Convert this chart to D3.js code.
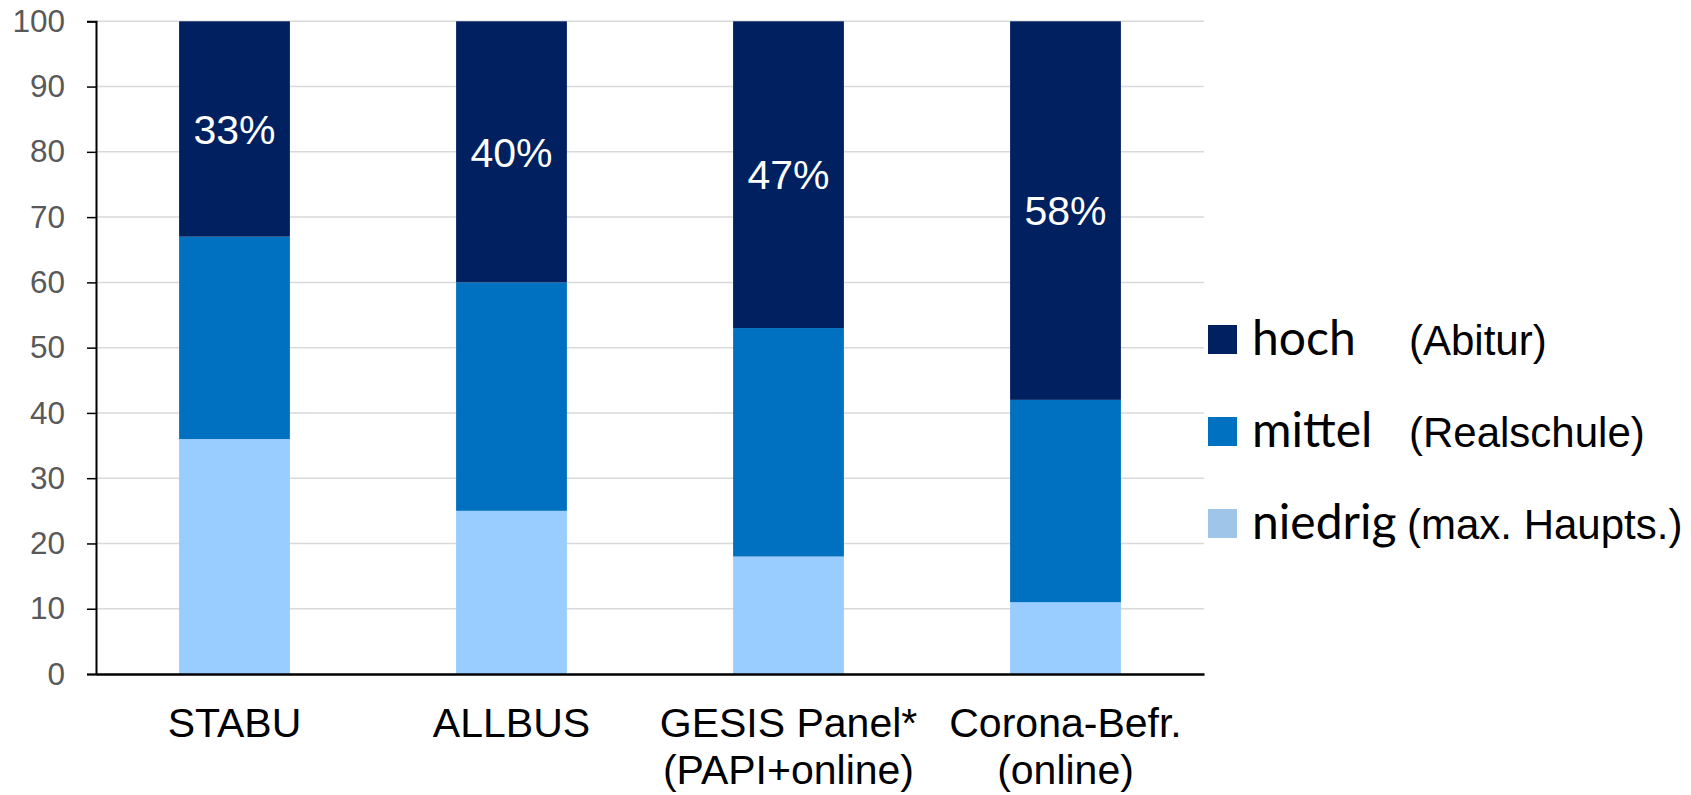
<!DOCTYPE html>
<html>
<head>
<meta charset="utf-8">
<script src="https://cdn.jsdelivr.net/npm/d3@7"></script>
<style>
  html, body { margin: 0; padding: 0; background: #fff; }
  svg { display: block; }
</style>
</head>
<body>
<svg id="chart" width="1691" height="795"></svg>
<script>
// ---- data ----
const categories = ["STABU", "ALLBUS", "GESIS Panel*", "Corona-Befr."];
const categorySubtitles = ["", "", "(PAPI+online)", "(online)"];
const niedrig = [36, 25, 18, 11];
const mittel  = [31, 35, 35, 31];
const hoch    = [33, 40, 47, 58];
const seriesKeys = ["niedrig", "mittel", "hoch"];
const legendKeys = ["hoch", "mittel", "niedrig"];
const legendNotes = ["(Abitur)", "(Realschule)", "(max. Haupts.)"];
const yTicks = [0, 10, 20, 30, 40, 50, 60, 70, 80, 90, 100];

(function () {
// ---- build table ----
const rows = categories.map((c, i) => ({ cat: c, niedrig: niedrig[i], mittel: mittel[i], hoch: hoch[i] }));
const stacked = d3.stack().keys(seriesKeys)(rows);

const color = d3.scaleOrdinal().domain(seriesKeys).range(["#99CCFF", "#0070C0", "#002060"]);
const legendColor = d3.scaleOrdinal().domain(seriesKeys).range(["#9FC5E8", "#0070C0", "#002060"]);

const svg = d3.select("#chart");
const mLeft = 96, mRight = 1204, mTop = 21.3, mBottom = 674;

const x = d3.scaleBand().domain(categories).range([mLeft, mRight]).paddingInner(0.6).paddingOuter(0.3);
const y = d3.scaleLinear().domain([0, 100]).range([mBottom, mTop]);

// gridlines
svg.append("g").selectAll("line").data(yTicks.filter(t => t > 0)).join("line")
  .attr("x1", mLeft).attr("x2", mRight)
  .attr("y1", d => y(d)).attr("y2", d => y(d))
  .attr("stroke", "#d9d9d9").attr("stroke-width", 1.5);

// bars
svg.append("g").selectAll("g").data(stacked).join("g")
  .attr("fill", d => color(d.key))
  .selectAll("rect").data(d => d).join("rect")
  .attr("x", d => x(d.data.cat))
  .attr("width", x.bandwidth())
  .attr("y", d => y(d[1]))
  .attr("height", d => y(d[0]) - y(d[1]));

// percentage labels on hoch segment
const hochLayer = stacked.find(s => s.key === "hoch");
svg.append("g").selectAll("text").data(hochLayer).join("text")
  .attr("x", d => x(d.data.cat) + x.bandwidth() / 2)
  .attr("y", d => y((d[0] + d[1]) / 2))
  .attr("dy", "0.36em")
  .attr("text-anchor", "middle")
  .attr("fill", "#fff")
  .style("font-family", "'Liberation Sans', Arial, sans-serif")
  .style("font-size", "41px")
  .text(d => d.data.hoch + "%");

// y axis
const yAxis = svg.append("g").attr("transform", `translate(${mLeft},0)`)
  .call(d3.axisLeft(y).tickValues(yTicks).tickSize(9).tickPadding(22));
yAxis.select(".domain").attr("stroke", "#000").attr("stroke-width", 2);
yAxis.selectAll(".tick line").attr("stroke", "#000").attr("stroke-width", 1.5);
yAxis.selectAll(".tick text")
  .attr("fill", "#595959")
  .style("font-family", "'Liberation Sans', Arial, sans-serif")
  .style("font-size", "31.5px");

// x axis baseline
const xAxis = svg.append("g").attr("transform", `translate(0,${mBottom})`)
  .call(d3.axisBottom(x).tickSize(0).tickFormat(""));
xAxis.select(".domain").attr("stroke", "#000").attr("stroke-width", 2.5);

// x labels
const xl = svg.append("g").selectAll("text").data(categories).join("text")
  .attr("x", d => x(d) + x.bandwidth() / 2)
  .attr("y", 737)
  .attr("text-anchor", "middle")
  .attr("fill", "#000")
  .style("font-family", "'Liberation Sans', Arial, sans-serif")
  .style("font-size", "41px");
xl.append("tspan").text(d => d);
xl.append("tspan")
  .attr("x", d => x(d) + x.bandwidth() / 2)
  .attr("dy", 47)
  .text((d, i) => categorySubtitles[i]);

// legend
const legend = svg.append("g");
const lg = legend.selectAll("g").data(legendKeys).join("g")
  .attr("transform", (d, i) => `translate(1208,${355 + i * 92})`);
lg.append("rect")
  .attr("x", 0).attr("y", -30).attr("width", 29).attr("height", 29)
  .attr("fill", d => legendColor(d));
lg.append("text")
  .attr("x", 44).attr("y", 0)
  .attr("fill", "#000")
  .style("font-family", "Lato, 'Noto Sans', sans-serif")
  .style("font-size", "48px")
  .text(d => d);
lg.append("text")
  .attr("x", (d, i) => i === 2 ? 199 : 201).attr("y", 0)
  .attr("fill", "#000")
  .style("font-family", "'Liberation Sans', Arial, sans-serif")
  .style("font-size", "42px")
  .text((d, i) => legendNotes[i]);
})();
</script>
</body>
</html>
